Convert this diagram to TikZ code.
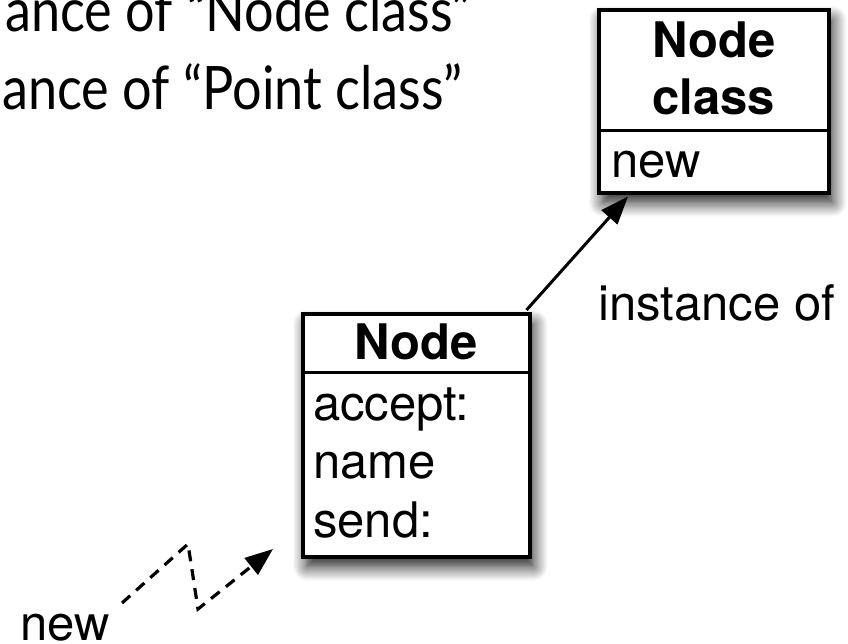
\documentclass[tikz,border=0pt]{standalone}
\usepackage{fontspec}
\setmainfont{TeX Gyre Heros}
\newfontfamily\headfont[FakeStretch=0.87]{Lato}
\usetikzlibrary{arrows.meta,shadows.blur,calc}

\begin{document}
\begin{tikzpicture}[x=1pt,y=-1pt,
  umlbox/.style={draw=black, line width=3.5pt, fill=white, inner sep=0pt,
    blur shadow={shadow xshift=4pt, shadow yshift=-10pt,
      shadow blur radius=14pt, shadow blur steps=12, shadow opacity=90}},
  divider/.style={line width=3pt},
  boxtext/.style={font=\fontsize{49}{58}\selectfont, inner sep=0pt},
  boldtext/.style={font=\fontsize{49}{58}\selectfont\bfseries, inner sep=0pt},
  headtext/.style={font=\headfont\fontsize{60}{70}\selectfont, inner sep=0pt},
  link/.style={line width=3pt, -{Triangle[length=28pt,width=21pt]}},
  dashlink/.style={line width=3.2pt, dash pattern=on 11pt off 8pt,
    -{Triangle[length=28pt,width=21pt]}}
]
\useasboundingbox (0,0) rectangle (848,643);
\clip (0,0) rectangle (848,643);

% heading lines
\node[headtext, anchor=base west] (h1) at (5,31) {ance of “Node class”};
\node[headtext, anchor=base west] (h2) at (2,109) {ance of “Point class”};

% the class object
\node[umlbox, anchor=north west, minimum width=230pt, minimum height=183pt] (nc) at (597,8) {};
\draw[divider] (nc.west |- 0,130) -- (nc.east |- 0,130);
\node[boldtext, anchor=base] (ncname1) at (nc.north |- 0,57) {Node};
\node[boldtext, anchor=base] (ncname2) at (nc.north |- 0,114) {class};
\node[boxtext, anchor=base west] (ncnew) at (611,177) {new};

% the Node object
\node[umlbox, anchor=north west, minimum width=227pt, minimum height=243pt] (nb) at (301,312) {};
\draw[divider] (nb.west |- 0,372) -- (nb.east |- 0,372);
\node[boldtext, anchor=base] (nbname) at (nb.north |- 0,359) {Node};
\node[boxtext, anchor=base west] (acc) at (313,420) {accept:};
\node[boxtext, anchor=base west] (nm) at (313,478) {name};
\node[boxtext, anchor=base west] (snd) at (313,537) {send:};

% instance-of relation
\node[boxtext, anchor=base west] (inst) at (598,320) {instance of};
\draw[link] ($(nb.north east)+(-5,-2)$) -- ($(nc.south west)+(31,2)$);

% creation message
\node[boxtext, anchor=base west] (newlbl) at (20,640) {new};
\coordinate (d0) at (122,603);
\coordinate (tip) at (273,549);
\draw[dashlink] (d0) -- (188,544) -- (198,609) -- (tip);
\end{tikzpicture}
\end{document}
